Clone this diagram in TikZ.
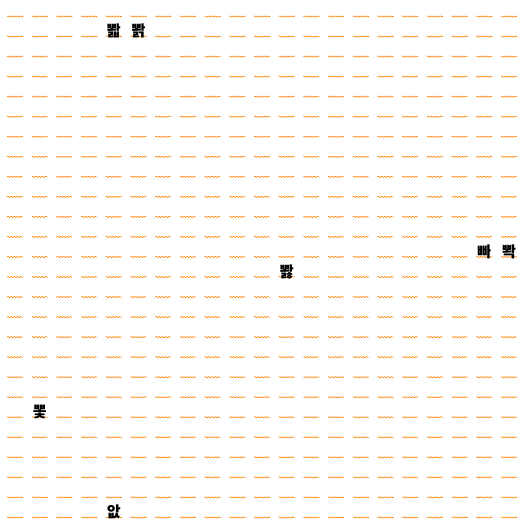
\documentclass[tikz,border=0pt]{standalone}
\usepackage{fontspec}
\usepackage{xcolor}
\usepackage{tikz}
\usetikzlibrary{decorations.pathmorphing}
\newfontfamily\korfont{Noto Sans CJK KR}

\begin{document}
\begin{tikzpicture}[x=1pt, y=-1pt,
			wave/.style={
					draw=orange,
					line width=0.6pt,
					decorate,
					decoration={snake, segment length=3.2pt, amplitude=0.6pt}
				},
			syllable/.style={
					inner sep=0pt,
					font=\korfont\bfseries\fontsize{15}{15}\selectfont,
					text=black
				}
		]
		\useasboundingbox (0,0) rectangle (525,526);
		% Draw grid
		\foreach \col in {0,...,20} {
				\foreach \row in {0,...,25} {
						\draw [wave] ({7+24.7*\col},{16.5+20.04*\row}) -- ++(16,0);
					}
			}
		% Place nodes
		\node [syllable] (ppog) at ({15+24.7*4},{11+20.04*1}) {뽧};
		\node [syllable] (ppwag) at ({15+24.7*5},{11+20.04*1}) {뽥};
		\node [syllable] (ppa) at ({15+24.7*19},{11+20.04*12}) {빠};
		\node [syllable] (ppwak) at ({15+24.7*20},{11+20.04*12}) {뽝};
		\node [syllable] (ppok) at ({15+24.7*11},{11+20.04*13}) {뽫};
		\node [syllable] (ppop) at ({15+24.7*1},{11+20.04*20}) {뽗};
		\node [syllable] (eops) at ({15+24.7*4},{11+20.04*25}) {앖};
	\end{tikzpicture}
\end{document}
